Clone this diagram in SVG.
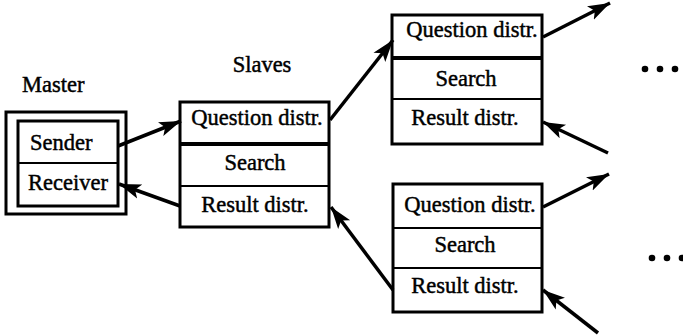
<svg xmlns="http://www.w3.org/2000/svg" width="683" height="335" viewBox="0 0 683 335">
<defs>
<marker id="ah" markerUnits="userSpaceOnUse" markerWidth="24" markerHeight="18" refX="22" refY="9" orient="auto">
<path d="M0,1.5 L22,9 L0,16.5 L5,9 z" fill="#000"/>
</marker>
<style>
text{font-family:"Liberation Serif","Times New Roman",serif;font-size:22.5px;fill:#000;stroke:#000;stroke-width:0.45}
.c{text-anchor:middle}
.box{fill:#fff;stroke:#000;stroke-width:3}
.div{stroke:#000;stroke-width:2.2}
.thk{stroke:#000;stroke-width:3.8}
.arr{stroke:#000;stroke-width:3.5;fill:none;marker-end:url(#ah)}
.dot{fill:#000}
</style>
</defs>
<rect width="683" height="335" fill="#fff"/>

<g id="master">
<text x="22" y="92">Master</text>
<rect class="box" x="6" y="112" width="120" height="102" stroke-width="3.2"/>
<rect class="box" x="18" y="121" width="100" height="85"/>
<line class="div" x1="18" y1="163" x2="118" y2="163"/>
<text x="30" y="150">Sender</text>
<text x="28" y="190">Receiver</text>
</g>

<g id="slave">
<text class="c" x="262" y="72">Slaves</text>
<rect class="box" x="180" y="102" width="149" height="125"/>
<line class="thk" x1="180" y1="144" x2="329" y2="144"/>
<line class="div" x1="180" y1="186" x2="329" y2="186"/>
<text class="c" x="257" y="125">Question distr.</text>
<text class="c" x="255" y="170">Search</text>
<text class="c" x="255" y="212">Result distr.</text>
</g>

<g id="slave-upper">
<rect class="box" x="392" y="15" width="150" height="129"/>
<line class="thk" x1="392" y1="58" x2="542" y2="58"/>
<line class="div" x1="392" y1="99" x2="542" y2="99"/>
<text class="c" x="472" y="37">Question distr.</text>
<text class="c" x="466" y="86">Search</text>
<text class="c" x="465" y="125">Result distr.</text>
</g>

<g id="slave-lower">
<rect class="box" x="393" y="184" width="149" height="128"/>
<line class="div" x1="393" y1="228" x2="542" y2="228"/>
<line class="div" x1="393" y1="268" x2="542" y2="268"/>
<text class="c" x="470" y="212">Question distr.</text>
<text class="c" x="465" y="252">Search</text>
<text class="c" x="465" y="293">Result distr.</text>
</g>

<g id="dots-upper">
<circle class="dot" cx="645" cy="69" r="3.3"/>
<circle class="dot" cx="660" cy="69" r="3.3"/>
<circle class="dot" cx="675" cy="69" r="3.3"/>
</g>
<g id="dots-lower">
<circle class="dot" cx="652" cy="258" r="3.3"/>
<circle class="dot" cx="667" cy="258" r="3.3"/>
<circle class="dot" cx="682" cy="258" r="3.3"/>
</g>

<g id="connectors">
<line class="arr" x1="118" y1="146" x2="181" y2="121"/>
<line class="arr" x1="180" y1="206" x2="119" y2="184"/>
<line class="arr" x1="330" y1="120" x2="393" y2="40"/>
<line class="arr" x1="393" y1="290" x2="331" y2="207"/>
<line class="arr" x1="543" y1="37" x2="610" y2="3"/>
<line class="arr" x1="608" y1="153" x2="543" y2="122"/>
<line class="arr" x1="543" y1="207" x2="609" y2="174"/>
<line class="arr" x1="598" y1="333" x2="543" y2="290"/>
</g>
</svg>
